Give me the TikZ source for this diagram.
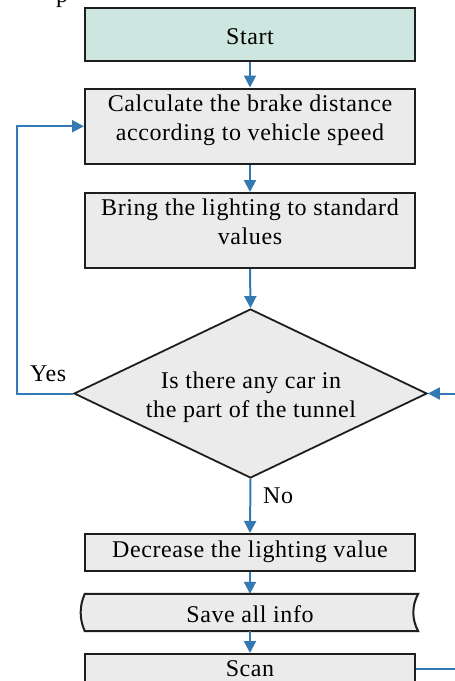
\documentclass[tikz,border=0pt]{standalone}
\usepackage{fontspec}
\setmainfont{Liberation Serif}[LetterSpace=2.5]
\usetikzlibrary{shapes.geometric,arrows.meta,calc}
\definecolor{boxfill}{HTML}{EBEBEB}
\definecolor{startfill}{HTML}{CDE6DF}
\definecolor{flow}{HTML}{3479B2}
\definecolor{edgec}{HTML}{1E1E1E}
\begin{document}
\begin{tikzpicture}[x=1pt,y=-1pt,
  box/.style={draw=edgec, line width=2pt, fill=boxfill, minimum width=330pt, inner sep=0pt},
  txt/.style={inner sep=0pt, align=center, font=\fontsize{24}{29}\selectfont},
  flowline/.style={draw=flow, line width=2pt},
  arr/.style={flowline, -{Triangle[length=12pt,width=12pt]}}]
\useasboundingbox (0,0) rectangle (455,681);
\clip (0,0) rectangle (455,681);
% fragment of text above
\node[txt, anchor=base west] (frag) at (56,2) {p};
% boxes
\node[box, fill=startfill, minimum height=53pt] (start) at (250,34) {};
\node[txt, anchor=base] (starttxt) at (250,44) {Start};
\node[box, minimum height=75.5pt] (calc) at (250,126.25) {};
\node[txt] (calctxt) at (250,120) {Calculate the brake distance\\according to vehicle speed};
\node[box, minimum height=75pt] (bring) at (250,230.5) {};
\node[txt] (bringtxt) at (250,222) {Bring the lighting to standard\\values};
\node[draw=edgec, line width=1.8pt, fill=boxfill, shape=diamond, inner sep=0pt,
      minimum width=353pt, minimum height=169pt] (dia) at (250.5,393.5) {};
\node[txt] (diatxt) at (251,397) {Is there any car in\\the part of the tunnel};
\node[box, minimum height=37pt] (dec) at (250,552.5) {};
\node[txt, anchor=base] (dectxt) at (250,557) {Decrease the lighting value};
\node[inner sep=0pt, minimum width=333pt, minimum height=37pt] (save) at (251.5,612.5) {};
\draw[draw=edgec, line width=2pt, fill=boxfill]
  (save.north west) -- (save.north east)
  .. controls ($(save.north east)+(-6.5,12)$) and ($(save.south east)+(-6.5,-12)$) .. (save.south east)
  -- (save.south west)
  .. controls ($(save.south west)+(-5.5,-12)$) and ($(save.north west)+(-5.5,12)$) .. (save.north west)
  -- cycle;
\node[txt, anchor=base] (savetxt) at (250,622) {Save all info};
\node[box, minimum height=29pt] (scan) at (250,668.5) {};
\node[txt, anchor=base] (scantxt) at (250,676.5) {Scan};
% labels
\node[txt, anchor=base west] (yes) at (30,381.5) {Yes};
\node[txt, anchor=base west] (no) at (263,503) {No};
% connectors
\draw[arr] (start.south) -- (calc.north);
\draw[arr] (calc.south) -- (bring.north);
\draw[arr] (bring.south) -- (dia.north);
\draw[arr] (dia.south) -- (dec.north);
\draw[arr] (dec.south) -- (save.north -| dec.south);
\draw[arr] (save.south -| dec.south) -- (scan.north);
\coordinate (lc) at (16.7,393.5);
\draw[arr] (dia.west) -- (lc) |- (calc.west);
\coordinate (rc) at (475,393.5);
\draw[arr] (scan.east) -| (rc) -- (dia.east);
\end{tikzpicture}
\end{document}
